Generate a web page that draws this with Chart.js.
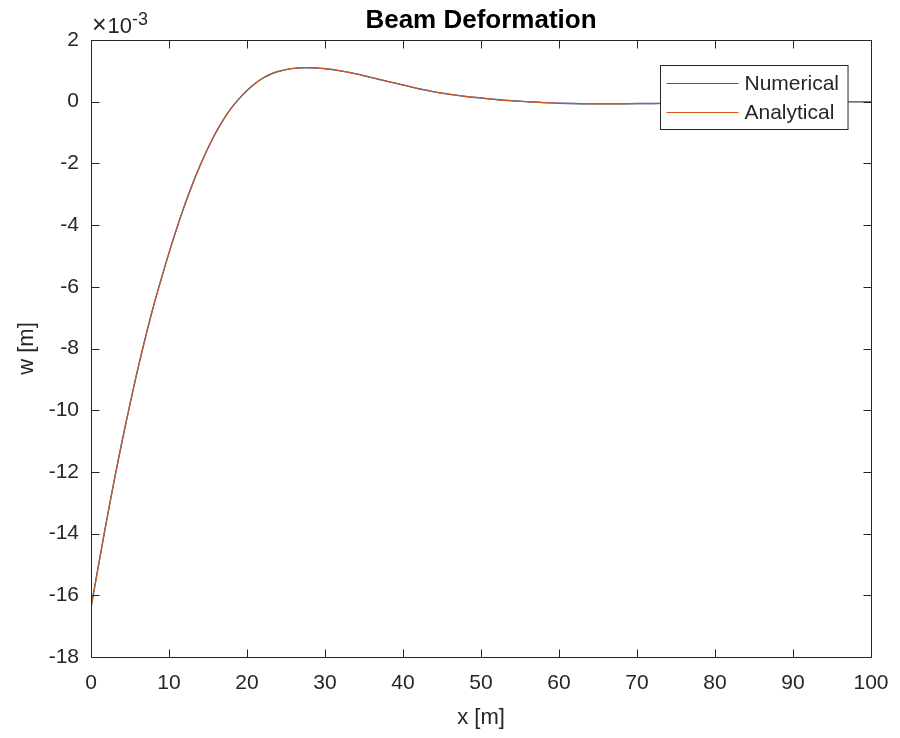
<!DOCTYPE html>
<html>
<head>
<meta charset="utf-8">
<script src="https://cdn.jsdelivr.net/npm/chart.js@4.4.1/dist/chart.umd.min.js"></script>
<style>
  html, body { margin: 0; padding: 0; background: #ffffff; }
  canvas { display: block; }
</style>
</head>
<body>
<canvas id="beam" width="900" height="738"></canvas>
<script>
// Position along the beam [m]
const xPositions = [
  0, 1, 2, 3, 4, 5, 6, 7, 8, 9, 10, 11, 12, 13, 14, 15, 16, 17, 18, 19, 20,
  21, 22, 23, 24, 25, 26, 27, 28, 29, 30,
  32, 34, 36, 38, 40, 42, 44, 46, 48, 50, 52, 54, 56, 58, 60,
  62, 64, 66, 68, 70, 72, 74, 76, 78, 80, 82, 84, 86, 88, 90,
  92, 94, 96, 98, 100
];

// Deflection w in units of 1e-3 m (numerical solution)
const wNumerical = [
  -16.40, -14.97, -13.58, -12.25, -10.99, -9.80, -8.67, -7.62, -6.64, -5.75, -4.90,
  -4.10, -3.36, -2.68, -2.06, -1.50, -1.00, -0.57, -0.20, 0.10, 0.36,
  0.58, 0.76, 0.89, 0.98, 1.04, 1.08, 1.10, 1.10, 1.09, 1.07,
  1.00, 0.90, 0.78, 0.66, 0.54, 0.42, 0.32, 0.24, 0.17, 0.12, 0.07, 0.03, 0.00, -0.03, -0.05,
  -0.06, -0.07, -0.07, -0.07, -0.06, -0.06, -0.05, -0.04, -0.03, -0.02, -0.02, -0.01, -0.01, 0.00, 0.00,
  0.00, 0.00, 0.00, 0.00, 0.00
];

// Deflection w in units of 1e-3 m (closed-form solution)
const wAnalytical = [
  -16.40, -14.97, -13.58, -12.25, -10.99, -9.80, -8.67, -7.62, -6.64, -5.75, -4.90,
  -4.10, -3.36, -2.68, -2.06, -1.50, -1.00, -0.57, -0.20, 0.10, 0.36,
  0.58, 0.76, 0.89, 0.98, 1.04, 1.08, 1.10, 1.10, 1.09, 1.07,
  1.00, 0.90, 0.78, 0.66, 0.54, 0.42, 0.32, 0.24, 0.17, 0.12, 0.07, 0.03, 0.00, -0.03, -0.05,
  -0.06, -0.07, -0.07, -0.07, -0.06, -0.06, -0.05, -0.04, -0.03, -0.02, -0.02, -0.01, -0.01, 0.00, 0.00,
  0.00, 0.00, 0.00, 0.00, 0.00
];

const xTicks = [0, 10, 20, 30, 40, 50, 60, 70, 80, 90, 100];
const yTicks = [-18, -16, -14, -12, -10, -8, -6, -4, -2, 0, 2];

const FONT = '"Liberation Sans", Arial, Helvetica, sans-serif';
const AXIS_COLOR = '#262626';

const toPoints = (xs, ys) => xs.map((x, i) => ({ x, y: ys[i] }));

// Box outline, inward tick marks, exponent label, title and legend
const matlabAxes = {
  id: 'matlabAxes',
  afterDraw(chart) {
    const { ctx, chartArea: a, scales } = chart;
    const xs = scales.x, ys = scales.y;
    const tick = 8;
    ctx.save();
    ctx.strokeStyle = AXIS_COLOR;
    ctx.lineWidth = 1;
    ctx.beginPath();
    const L = Math.round(a.left) + 0.5, R = Math.round(a.right) + 0.5;
    const T = Math.round(a.top) + 0.5, B = Math.round(a.bottom) + 0.5;
    ctx.rect(L, T, R - L, B - T);
    xTicks.forEach(v => {
      const px = Math.round(xs.getPixelForValue(v)) + 0.5;
      ctx.moveTo(px, B); ctx.lineTo(px, B - tick);
      ctx.moveTo(px, T); ctx.lineTo(px, T + tick);
    });
    yTicks.forEach(v => {
      const py = Math.round(ys.getPixelForValue(v)) + 0.5;
      ctx.moveTo(L, py); ctx.lineTo(L + tick, py);
      ctx.moveTo(R, py); ctx.lineTo(R - tick, py);
    });
    ctx.stroke();

    // Exponent multiplier above the y axis
    ctx.fillStyle = AXIS_COLOR;
    ctx.textAlign = 'left';
    ctx.textBaseline = 'alphabetic';
    let ex = a.left + 1;
    ctx.font = '25px ' + FONT;
    ctx.fillText('\u00D7', ex, a.top - 7);
    ex += ctx.measureText('\u00D7').width + 1;
    ctx.font = '22px ' + FONT;
    ctx.fillText('10', ex, a.top - 7);
    ex += ctx.measureText('10').width;
    ctx.font = '18px ' + FONT;
    ctx.fillText('-3', ex, a.top - 15);

    // Title
    ctx.fillStyle = '#000000';
    ctx.textAlign = 'center';
    ctx.font = 'bold 26px ' + FONT;
    ctx.fillText('Beam Deformation', (a.left + a.right) / 2, 28);

    // Legend
    const ds = chart.data.datasets;
    ctx.font = '21px ' + FONT;
    const textW = Math.max(...ds.map(d => ctx.measureText(d.label).width));
    const lineLen = 72, padL = 6, gap = 6, padR = 9, rowH = 29, padT = 17;
    const boxW = padL + lineLen + gap + textW + padR;
    const boxH = padT + rowH * (ds.length - 1) + 18;
    const bx = Math.round(a.right - 23 - boxW) + 0.5;
    const by = Math.round(a.top + 25) + 0.5;
    ctx.fillStyle = '#ffffff';
    ctx.fillRect(bx, by, boxW, boxH);
    ctx.strokeStyle = AXIS_COLOR;
    ctx.lineWidth = 1;
    ctx.strokeRect(bx, by, boxW, boxH);
    ctx.textAlign = 'left';
    ctx.textBaseline = 'middle';
    ds.forEach((d, i) => {
      const ry = Math.round(by + padT + i * rowH) + 0.5;
      ctx.strokeStyle = d.borderColor;
      ctx.lineWidth = 1.2;
      ctx.beginPath();
      ctx.moveTo(bx + padL, ry);
      ctx.lineTo(bx + padL + lineLen, ry);
      ctx.stroke();
      ctx.fillStyle = AXIS_COLOR;
      ctx.fillText(d.label, bx + padL + lineLen + gap, ry + 1);
    });
    ctx.restore();
  }
};

new Chart(document.getElementById('beam'), {
  type: 'line',
  data: {
    datasets: [
      {
        label: 'Numerical',
        data: toPoints(xPositions, wNumerical),
        borderColor: '#0072BD',
        borderWidth: 1.4,
        pointRadius: 0,
        tension: 0.4,
        order: 1,
        fill: false
      },
      {
        label: 'Analytical',
        data: toPoints(xPositions, wAnalytical),
        borderColor: '#D95319',
        borderWidth: 1.2,
        pointRadius: 0,
        tension: 0.4,
        order: 0,
        fill: false
      }
    ]
  },
  options: {
    responsive: false,
    animation: false,
    events: [],
    layout: { padding: { top: 40, right: 29, left: 0, bottom: 0 } },
    plugins: {
      legend: { display: false },
      title: { display: false },
      tooltip: { enabled: false }
    },
    scales: {
      x: {
        type: 'linear',
        min: 0,
        max: 100,
        afterFit(scale) {
          scale.height = 81;
          scale.paddingLeft = 0;
          scale.paddingRight = 0;
        },
        afterBuildTicks(scale) { scale.ticks = xTicks.map(v => ({ value: v })); },
        grid: { display: false, drawTicks: false },
        border: { display: false },
        ticks: {
          color: AXIS_COLOR,
          font: { family: FONT, size: 21 },
          padding: 14,
          maxRotation: 0
        },
        title: {
          display: true,
          text: 'x [m]',
          color: AXIS_COLOR,
          font: { family: FONT, size: 22 },
          padding: { top: 0, bottom: 7 }
        }
      },
      y: {
        type: 'linear',
        min: -18,
        max: 2,
        afterFit(scale) {
          scale.width = 91;
          scale.paddingTop = 0;
          scale.paddingBottom = 0;
        },
        afterBuildTicks(scale) { scale.ticks = yTicks.map(v => ({ value: v })); },
        grid: { display: false, drawTicks: false },
        border: { display: false },
        ticks: {
          color: AXIS_COLOR,
          font: { family: FONT, size: 21 },
          padding: 12
        },
        title: {
          display: true,
          text: 'w [m]',
          color: AXIS_COLOR,
          font: { family: FONT, size: 22 },
          padding: { top: 14, bottom: 0 }
        }
      }
    }
  },
  plugins: [matlabAxes]
});
</script>
</body>
</html>
